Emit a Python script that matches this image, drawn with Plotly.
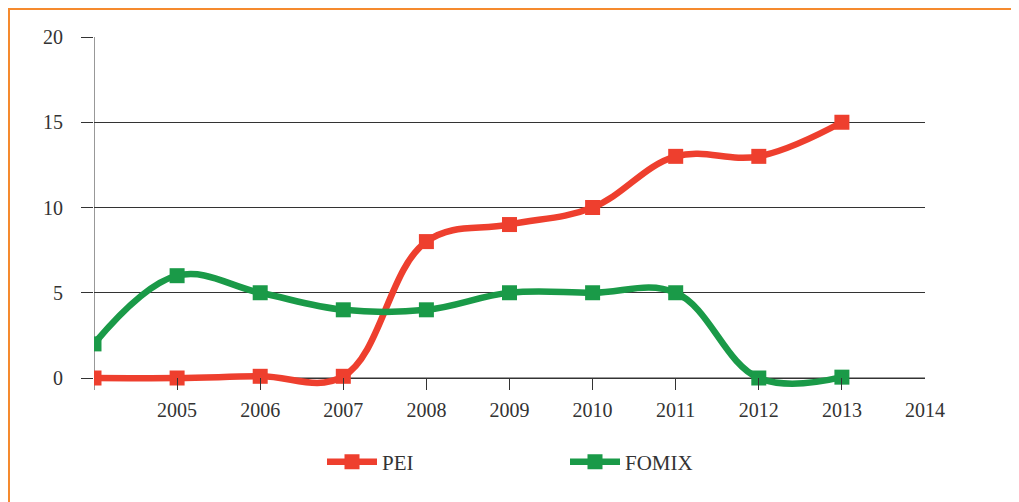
import plotly.graph_objects as go

years = [2004, 2005, 2006, 2007, 2008, 2009, 2010, 2011, 2012, 2013]
pei = [0, 0, 0.1, 0.1, 8, 9, 10, 13, 13, 15]
fomix = [2, 6, 5, 4, 4, 5, 5, 5, 0, 0.05]
x_tickvals = [2004, 2005, 2006, 2007, 2008, 2009, 2010, 2011, 2012, 2013, 2014]
x_ticktext = ["", "2005", "2006", "2007", "2008", "2009", "2010", "2011", "2012", "2013", "2014"]
y_tickvals = [0, 5, 10, 15, 20]

RED = "#EE3F2E"
GREEN = "#1A9A48"
FONT = "Liberation Serif"
TXT = "#333333"
SMOOTH = 1.1

fig = go.Figure()
fig.add_trace(go.Scatter(x=years, y=pei, name="PEI", mode="lines+markers",
                         line=dict(color=RED, width=6.5, shape="spline", smoothing=SMOOTH),
                         marker=dict(symbol="square", size=15, color=RED)))
fig.add_trace(go.Scatter(x=years, y=fomix, name="FOMIX", mode="lines+markers",
                         line=dict(color=GREEN, width=6.5, shape="spline", smoothing=SMOOTH),
                         marker=dict(symbol="square", size=15, color=GREEN)))

OFF = 8  # page body margin
W, H = 1011, 494
pl, pr, pt, pb = 94, 925, 37, 390
L, T = pl - OFF, pt - OFF
R = W - (pr - OFF)
B = H - (pb - OFF)
pw, ph = pr - pl, pb - pt
y0px, y20px = 378, 37
ypp = (y0px - y20px) / 20.0
ymin = -(pb - y0px) / ypp

def px2paper_x(px):
    return (px - pl) / pw

def px2paper_y(py):
    return (pb - py) / ph

fig.add_shape(type="rect", xref="paper", yref="paper",
              x0=px2paper_x(9), x1=px2paper_x(1016), y0=px2paper_y(515), y1=px2paper_y(9),
              line=dict(color="#F58A2E", width=2), fillcolor="rgba(0,0,0,0)", layer="above")
fig.add_shape(type="line", xref="x", yref="y", x0=2004, x1=2014, y0=0, y1=0,
              line=dict(color=TXT, width=1), layer="below")
fig.add_shape(type="line", xref="x", yref="paper", x0=2004, x1=2004, y0=0, y1=1,
              line=dict(color=TXT, width=1), layer="below")

fig.update_layout(
    width=W, height=H,
    margin=dict(l=L, r=R, t=T, b=B, autoexpand=False),
    paper_bgcolor="white", plot_bgcolor="white",
    font=dict(family=FONT, size=21, color=TXT),
    showlegend=True,
    legend=dict(orientation="h", x=px2paper_x(322), xanchor="left", y=px2paper_y(462), yanchor="middle",
                entrywidth=178, entrywidthmode="pixels", itemwidth=50,
                font=dict(size=21, family=FONT, color=TXT),
                bgcolor="rgba(0,0,0,0)"),
    xaxis=dict(range=[2004, 2014], tickvals=x_tickvals, ticktext=x_ticktext,
               showgrid=False, zeroline=False, showline=False,
               ticks="inside", ticklen=pb - y0px, tickcolor=TXT, tickwidth=1,
               ticklabelstandoff=6,
               tickfont=dict(size=20, family=FONT, color=TXT)),
    yaxis=dict(range=[ymin, 20], tickvals=y_tickvals, showgrid=True, gridcolor=TXT, gridwidth=1,
               zeroline=False, showline=False,
               ticks="outside", ticklen=12, tickcolor=TXT, tickwidth=1,
               ticklabelstandoff=14,
               tickfont=dict(size=20, family=FONT, color=TXT)),
)

fig.write_html("out.html")
